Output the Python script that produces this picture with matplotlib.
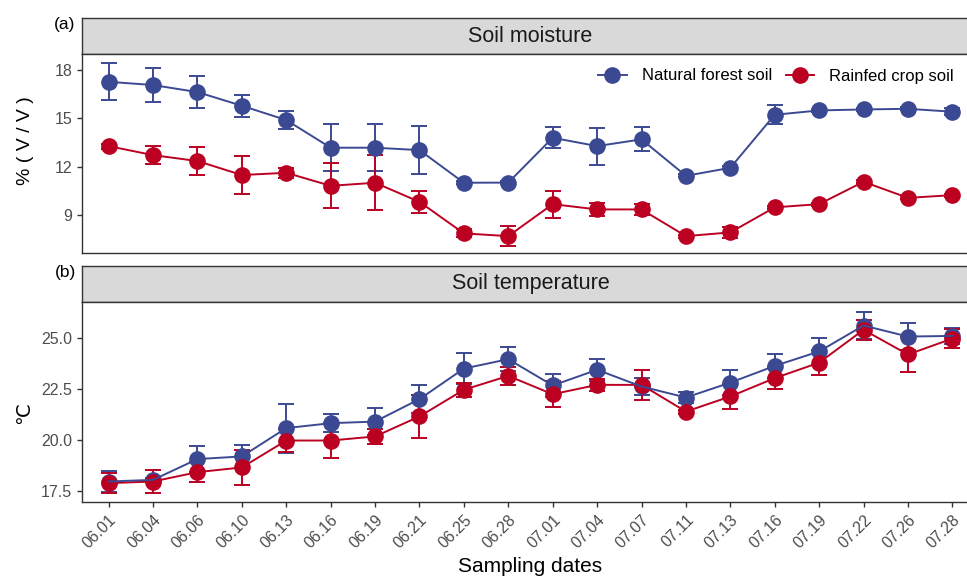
import numpy as np
import matplotlib.pyplot as plt
from matplotlib.lines import Line2D

plt.rcParams["font.family"] = ["Liberation Sans", "DejaVu Sans"]

dates = ["06.01", "06.04", "06.06", "06.10", "06.13", "06.16", "06.19", "06.21",
         "06.25", "06.28", "07.01", "07.04", "07.07", "07.11", "07.13", "07.16",
         "07.19", "07.22", "07.26", "07.28"]

# soil moisture (% V/V)
moist_forest = [17.27, 17.07, 16.63, 15.78, 14.89, 13.17, 13.17, 13.02, 10.99, 11.0,
                13.79, 13.27, 13.69, 11.42, 11.92, 15.22, 15.49, 15.55, 15.59, 15.41]
moist_forest_se = [1.15, 1.03, 1.0, 0.7, 0.55, 1.45, 1.45, 1.47, 0.1, 0.1,
                   0.65, 1.15, 0.75, 0.1, 0.1, 0.6, 0.1, 0.1, 0.1, 0.2]
moist_crop = [13.27, 12.71, 12.34, 11.47, 11.61, 10.8, 10.99, 9.8, 7.84, 7.67,
              9.66, 9.33, 9.33, 7.67, 7.9, 9.46, 9.66, 11.05, 10.05, 10.22]
moist_crop_se = [0.15, 0.57, 0.85, 1.18, 0.3, 1.4, 1.7, 0.68, 0.25, 0.6,
                 0.84, 0.4, 0.35, 0.1, 0.35, 0.1, 0.1, 0.1, 0.1, 0.1]

# soil temperature (degC)
temp_forest = [17.97, 18.05, 19.07, 19.2, 20.59, 20.83, 20.91, 22.01, 23.51, 23.97,
               22.68, 23.45, 22.63, 22.09, 22.82, 23.64, 24.35, 25.62, 25.08, 25.11]
temp_forest_se = [0.5, 0.1, 0.65, 0.55, 1.2, 0.45, 0.65, 0.67, 0.78, 0.6,
                  0.58, 0.55, 0.4, 0.25, 0.6, 0.58, 0.68, 0.68, 0.65, 0.4]
temp_crop = [17.89, 17.97, 18.43, 18.66, 19.98, 19.98, 20.18, 21.16, 22.47, 23.15,
             22.25, 22.71, 22.71, 21.4, 22.14, 23.04, 23.8, 25.41, 24.2, 24.98]
temp_crop_se = [0.5, 0.55, 0.5, 0.87, 0.55, 0.88, 0.35, 1.05, 0.35, 0.45,
                0.65, 0.3, 0.72, 0.1, 0.62, 0.55, 0.6, 0.5, 0.85, 0.48]

blue = "#3B4992"
red = "#BB0021"
border = "#333333"
tick_grey = "#4D4D4D"

W, H = 967, 579
fig = plt.figure(figsize=(W / 100, H / 100), dpi=100)


def box(x0, y0, x1, y1):
    # pixel box (top-left origin) -> figure fraction rect
    return [x0 / W, 1 - y1 / H, (x1 - x0) / W, (y1 - y0) / H]


x = np.arange(len(dates))


def draw_panel(ax, f, fse, c, cse):
    ax.errorbar(x, f, yerr=fse, fmt="none", ecolor=blue, elinewidth=1.4,
                capsize=6, capthick=1.4, zorder=2)
    ax.errorbar(x, c, yerr=cse, fmt="none", ecolor=red, elinewidth=1.4,
                capsize=6, capthick=1.4, zorder=2)
    ax.plot(x, f, "o", color=blue, ms=12, mec="none", zorder=3)
    ax.plot(x, c, "o", color=red, ms=12, mec="none", zorder=4)
    ax.plot(x, c, "-", color=red, lw=1.4, zorder=5)
    ax.plot(x, f, "-", color=blue, lw=1.4, zorder=6)
    ax.set_xlim(-0.6, len(dates) - 0.4)
    for s in ax.spines.values():
        s.set_color(border)
        s.set_linewidth(1.0)
    ax.tick_params(colors=border, labelcolor=tick_grey, labelsize=11.5,
                   length=3.5, width=1.0)


def strip(rect, label):
    sa = fig.add_axes(rect)
    sa.set_facecolor("#D9D9D9")
    sa.set_xticks([])
    sa.set_yticks([])
    for s in sa.spines.values():
        s.set_color(border)
        s.set_linewidth(1.0)
    sa.text(0.5, 0.5, label, ha="center", va="center", fontsize=15.5,
            color="#1A1A1A", transform=sa.transAxes)


left, right = 82, 979

# (a) soil moisture
strip(box(left, 18, right, 54), "Soil moisture")
ax1 = fig.add_axes(box(left, 54, right, 253))
draw_panel(ax1, moist_forest, moist_forest_se, moist_crop, moist_crop_se)
ax1.set_ylim(6.62, 19.0)
ax1.set_yticks([9, 12, 15, 18])
ax1.set_xticks([])

handles = [Line2D([], [], color=blue, marker="o", ms=12, mec="none", lw=1.4),
           Line2D([], [], color=red, marker="o", ms=12, mec="none", lw=1.4)]
ax1.legend(handles, ["Natural forest soil", "Rainfed crop soil"], ncol=2,
           frameon=False, fontsize=12, loc="center right",
           bbox_to_anchor=(954 / W, 1 - 76 / H), bbox_transform=fig.transFigure,
           borderpad=0, borderaxespad=0,
           handlelength=1.7, handletextpad=0.9, columnspacing=0.85)

# (b) soil temperature
strip(box(left, 265.7, right, 302.3), "Soil temperature")
ax2 = fig.add_axes(box(left, 302.3, right, 502.3))
draw_panel(ax2, temp_forest, temp_forest_se, temp_crop, temp_crop_se)
ax2.set_ylim(16.95, 26.76)
ax2.set_yticks([17.5, 20.0, 22.5, 25.0])
ax2.set_yticklabels(["17.5", "20.0", "22.5", "25.0"])
ax2.set_xticks(x)
ax2.set_xticklabels(dates, rotation=45, ha="right", va="top",
                    rotation_mode="anchor")

fig.text(65 / W, 1 - 25 / H, "(a)", ha="center", va="center", fontsize=12.5)
fig.text(65 / W, 1 - 273 / H, "(b)", ha="center", va="center", fontsize=12.5)
fig.text(25 / W, 1 - 141 / H, "% ( V / V )", rotation=90, ha="center",
         va="center", fontsize=14)
fig.text(24 / W, 1 - 413 / H, "℃", rotation=90, ha="center", va="center",
         fontsize=14, family=["DejaVu Sans"])
fig.text(530 / W, 1 - 567 / H, "Sampling dates", ha="center", va="center",
         fontsize=15)

fig.savefig("out.png", dpi=100, facecolor="white")
